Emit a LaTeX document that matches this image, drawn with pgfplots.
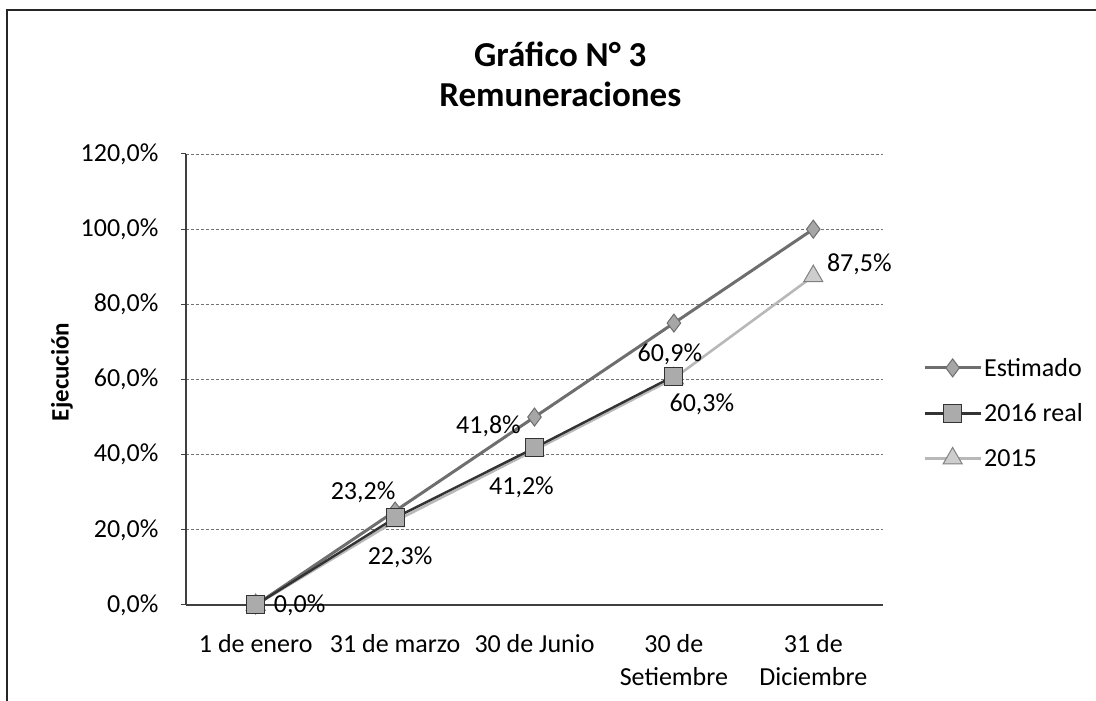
\documentclass[border=0pt]{standalone}
\usepackage{pgfplots}
\usepackage{pgfplotstable}
\pgfplotsset{compat=1.18}
\usepackage{fontspec}
\setmainfont{Carlito}

\definecolor{estline}{HTML}{6E6E6E}
\definecolor{estfill}{HTML}{A6A6A6}
\definecolor{realline}{HTML}{333333}
\definecolor{realfill}{HTML}{ABABAB}
\definecolor{l15line}{HTML}{B8B8B8}
\definecolor{l15fill}{HTML}{CDCDCD}

\pgfplotstableread{
x y
0 0
1 25
2 50
3 75
4 100
}\estimado

\pgfplotstableread{
x y
0 0
1 23.2
2 41.8
3 60.9
}\real

\pgfplotstableread{
x y
0 0
1 22.3
2 41.2
3 60.3
4 87.5
}\quince

\pgfplotstableread{
x y dx dy
0 0 44 0
1 23.2 -32 26
2 41.8 -46 22
3 60.9 -4 22
1 22.3 5 -36
2 41.2 -13 -37
3 60.3 28 -26
4 87.5 46 12
}\labels

\begin{document}
\begin{tikzpicture}[x=1pt,y=1pt]
\path[use as bounding box] (0,0) rectangle (1096,701);
\draw[line width=1.4pt, black!85] (7,0) -- (7,691) -- (1096,691);
\begin{axis}[
  at={(186pt,96pt)}, anchor=south west,
  scale only axis, width=697pt, height=451pt,
  xmin=-0.5, xmax=4.5, ymin=0, ymax=120,
  xtick={0,1,2,3,4},
  xticklabels={1 de enero, 31 de marzo, 30 de Junio, {30 de\\Setiembre}, {31 de\\Diciembre}},
  xticklabel style={align=center, anchor=north, font=\fontsize{26}{33}\selectfont, yshift=-21pt},
  ytick={0,20,...,120},
  yticklabel={\pgfmathprintnumber[fixed,fixed zerofill,precision=1,use comma]{\tick}\%},
  yticklabel style={font=\fontsize{26}{30}\selectfont, xshift=-19pt},
  /pgf/number format/assume math mode=true,
  axis x line*=bottom, axis y line*=left,
  axis line style={black!75, line width=1.3pt},
  x axis line style={-}, y axis line style={-},
  xtick style={draw=none},
  ytick style={black!75, line width=1pt},
  major tick length=5pt, tick align=outside,
  ymajorgrids,
  major grid style={black!55, line width=0.9pt, dash pattern=on 3pt off 2pt},
  ylabel={\textbf{Ejecución}},
  ylabel style={font=\fontsize{25}{30}\selectfont, at={(axis description cs:-0.178,0.517)}, anchor=center, rotate=0},
  title={\textbf{Gráfico N° 3}\\\textbf{Remuneraciones}},
  title style={font=\fontsize{35}{40}\selectfont, align=center, at={(axis description cs:0.537,1)}, anchor=south, yshift=38pt},
  legend style={at={(axis description cs:1.053,0.426)}, anchor=west, draw=none, fill=none,
    font=\fontsize{26}{30}\selectfont, row sep=22pt, legend cell align=left},
  legend image code/.code={\draw[mark repeat=2,mark phase=2,#1] plot coordinates {(0pt,0pt) (28pt,0pt) (56pt,0pt)};},
  clip=false,
]
\addplot[forget plot, l15line, line width=2.6pt, mark=triangle*, mark size=11pt,
  mark options={fill=l15fill, draw=black!50, line width=1pt, solid}] table[x=x,y=y]{\quince};
\addplot[estline, line width=3pt, mark=diamond*, mark size=9pt,
  mark options={fill=estfill, draw=estline, line width=1pt, solid}] table[x=x,y=y]{\estimado};
\addlegendentry{Estimado}
\addplot[realline, line width=2.4pt, mark=square*, mark size=9pt,
  mark options={fill=realfill, draw=realline, line width=1pt, solid}] table[x=x,y=y]{\real};
\addlegendentry{2016 real}
\addlegendimage{l15line, line width=2.6pt, mark=triangle*, mark size=11pt,
  mark options={fill=l15fill, draw=black!50, line width=1pt, solid}}
\addlegendentry{2015}
\addplot[draw=none, mark=none, forget plot,
  point meta=\thisrow{y},
  visualization depends on={\thisrow{dx}\as\dx},
  visualization depends on={\thisrow{dy}\as\dy},
  nodes near coords={\pgfmathprintnumber[fixed,fixed zerofill,precision=1,use comma]{\pgfplotspointmeta}\%},
  every node near coord/.style={anchor=center, xshift=\dx pt, yshift=\dy pt, text=black, font=\fontsize{26}{30}\selectfont}]
  table[x=x,y=y]{\labels};
\end{axis}
\end{tikzpicture}
\end{document}
